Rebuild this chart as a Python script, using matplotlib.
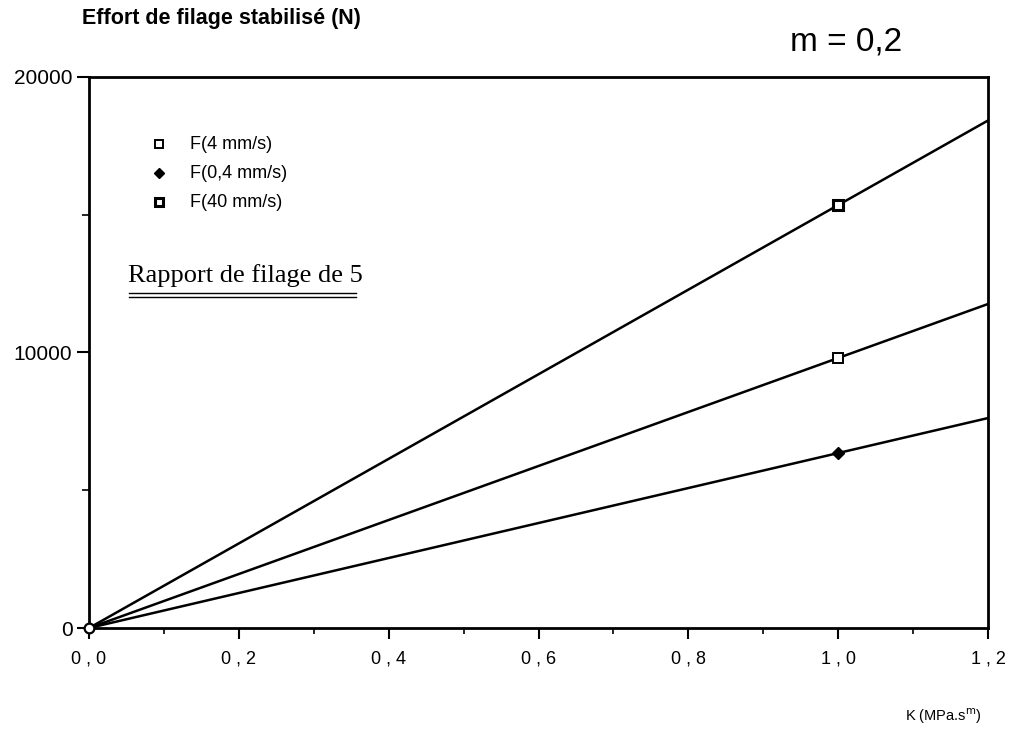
import numpy as np
import matplotlib.pyplot as plt
from matplotlib.ticker import MultipleLocator, FuncFormatter

# K values (MPa.s^m) and stabilised extrusion force (N)
K = [0.0, 1.0, 1.2]
F_4 = [0, 9800, 11760]
F_04 = [0, 6350, 7620]
F_40 = [0, 15350, 18420]
labels = ['F(4 mm/s)', 'F(0,4 mm/s)', 'F(40 mm/s)']

plt.rcParams['font.family'] = ['Liberation Sans', 'DejaVu Sans']

fig = plt.figure(figsize=(10.13, 7.31), dpi=100)
ax = fig.add_axes([0.0879, 0.1409, 0.8874, 0.7538])

lw = 1.8
ax.plot(K, F_40, color='black', lw=lw, marker='s', markevery=[1], ms=7,
        mfc='white', mec='black', mew=2.2, zorder=3)
ax.plot(K, F_4, color='black', lw=lw, marker='s', markevery=[1], ms=7,
        mfc='white', mec='black', mew=1.4, zorder=3)
ax.plot(K, F_04, color='black', lw=lw, marker='D', markevery=[1], ms=6,
        mfc='black', mec='black', zorder=3)
# origin point
ax.plot([0], [0], marker='o', ms=7, mfc='white', mec='black', mew=1.6,
        clip_on=False, zorder=4)

ax.set_xlim(0, 1.2)
ax.set_ylim(0, 20000)

for s in ax.spines.values():
    s.set_linewidth(2.0)

ax.xaxis.set_major_locator(MultipleLocator(0.2))
ax.xaxis.set_minor_locator(MultipleLocator(0.1))
ax.yaxis.set_major_locator(MultipleLocator(10000))
ax.yaxis.set_minor_locator(MultipleLocator(5000))
ax.xaxis.set_major_formatter(FuncFormatter(lambda v, p: f'{v:.1f}'.replace('.', ' , ')))
ax.tick_params(axis='x', which='major', direction='out', length=8, width=1.5,
               labelsize=13, pad=8)
ax.tick_params(axis='x', which='minor', direction='out', length=4, width=1.2)
ax.tick_params(axis='y', which='major', direction='out', length=9, width=1.5,
               labelsize=15, pad=3)
ax.tick_params(axis='y', which='minor', direction='out', length=5, width=1.2)

# legend drawn by hand in the plot area
lx, tx = 0.078, 0.112
rows = [0.878, 0.825, 0.773]
ax.plot(lx, rows[0], transform=ax.transAxes, marker='s', ms=6, mfc='white',
        mec='black', mew=1.4, ls='none')
ax.plot(lx, rows[1], transform=ax.transAxes, marker='D', ms=5, mfc='black',
        mec='black', ls='none')
ax.plot(lx, rows[2], transform=ax.transAxes, marker='s', ms=6, mfc='white',
        mec='black', mew=2.2, ls='none')
for y, lab in zip(rows, labels):
    ax.text(tx, y, lab, transform=ax.transAxes, fontsize=13, va='center')

ax.text(0.043, 0.640, 'Rapport de filage de 5', transform=ax.transAxes,
        fontsize=19, family=['Liberation Serif', 'DejaVu Serif'], va='center')
ax.plot([0.045, 0.297], [0.608, 0.608], transform=ax.transAxes, color='black', lw=1.0)
ax.plot([0.045, 0.297], [0.600, 0.600], transform=ax.transAxes, color='black', lw=1.0)

fig.text(0.081, 0.975, 'Effort de filage stabilisé (N)', fontsize=15.5,
         fontweight='bold', va='center')
fig.text(0.78, 0.943, 'm = 0,2', fontsize=24, va='center')
fig.text(0.893, 0.020, 'K (MPa.s$^{\\mathrm{m}}$)', fontsize=10.5, va='center')

fig.savefig('out.png', dpi=100)
